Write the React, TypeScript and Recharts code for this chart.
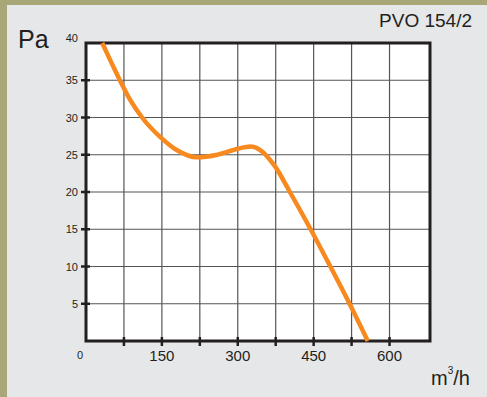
import { CartesianGrid, Line, LineChart, ReferenceArea, XAxis, YAxis } from "recharts";

// air flow (m3/h) vs static pressure (Pa)
const flowRates = [32, 50, 67, 87, 112, 148, 180, 219, 260, 300, 325, 345, 373, 403, 444, 483, 521, 557];
const pressures = [40, 37.4, 35, 32.4, 29.9, 27.3, 25.6, 24.65, 25.0, 25.8, 26.1, 25.6, 23.5, 20, 15, 10, 5, 0];

const xTicks = [0, 75, 150, 225, 300, 375, 450, 525, 600];
const xLabels = [150, 300, 450, 600];
const yTicks = [0, 5, 10, 15, 20, 25, 30, 35, 40];

const data = flowRates.map((flow, i) => ({ flow, pa: pressures[i] }));

const FONT = '"Liberation Sans", Arial, sans-serif';
const INK = "#231f20";

const XTick = (props: any) => {
  const { x, y, payload } = props;
  const v = payload.value;
  if (v === 0) {
    return (
      <text x={x - 6} y={y + 18} fontSize={11} fill={INK} textAnchor="middle" fontFamily={FONT}>
        0
      </text>
    );
  }
  return (
    <g>
      <line x1={x} y1={y - 4} x2={x} y2={y + 5} stroke={INK} strokeWidth={2.5} />
      {xLabels.includes(v) && (
        <text x={x} y={y + 20} fontSize={15} fill={INK} textAnchor="middle" fontFamily={FONT}>
          {v}
        </text>
      )}
    </g>
  );
};

const YTick = (props: any) => {
  const { x, y, payload } = props;
  const v = payload.value;
  if (v === 0) return null;
  return (
    <g>
      {v !== 40 && <line x1={x - 5} y1={y} x2={x + 4} y2={y} stroke={INK} strokeWidth={2.5} />}
      <text
        x={x - 8}
        y={v === 40 ? y - 5 : y}
        fontSize={11}
        fill={INK}
        textAnchor="end"
        dominantBaseline="central"
        fontFamily={FONT}
      >
        {v}
      </text>
    </g>
  );
};

export default function App() {
  return (
    <div
      style={{
        position: "absolute",
        left: 0,
        top: 0,
        width: 487,
        height: 397,
        background: "#e6e7e8",
        borderTop: "5px solid #a9a677",
        borderLeft: "7px solid #a9a677",
        boxSizing: "border-box",
        fontFamily: FONT,
        color: INK,
      }}
    >
      <LineChart
        width={487}
        height={397}
        data={data}
        margin={{ top: 43, right: 57, bottom: 16, left: 46 }}
        style={{ position: "absolute", left: -7, top: -5 }}
      >
        <CartesianGrid stroke="#555" strokeWidth={1.2} fill="#fff" />
        <XAxis
          dataKey="flow"
          type="number"
          domain={[0, 680]}
          ticks={xTicks}
          interval={0}
          height={40}
          axisLine={false}
          tickLine={false}
          tickSize={0}
          tickMargin={0}
          tick={<XTick />}
        />
        <YAxis
          type="number"
          domain={[0, 40]}
          ticks={yTicks}
          interval={0}
          width={40}
          axisLine={false}
          tickLine={false}
          tickSize={0}
          tickMargin={0}
          tick={<YTick />}
        />
        <Line
          type="monotone"
          dataKey="pa"
          stroke="#f7891f"
          strokeWidth={4.5}
          dot={false}
          isAnimationActive={false}
        />
        <ReferenceArea x1={0} x2={680} y1={0} y2={40} fill="none" stroke={INK} strokeWidth={3} ifOverflow="visible" />
      </LineChart>
      <div style={{ position: "absolute", left: 11, top: 20, fontSize: 25 }}>Pa</div>
      <div style={{ position: "absolute", right: 15, top: 5, fontSize: 19 }}>PVO 154/2</div>
      <div style={{ position: "absolute", left: 424, top: 362, fontSize: 20 }}>
        m<sup style={{ fontSize: 10, verticalAlign: "top", position: "relative", top: -2 }}>3</sup>/h
      </div>
    </div>
  );
}
